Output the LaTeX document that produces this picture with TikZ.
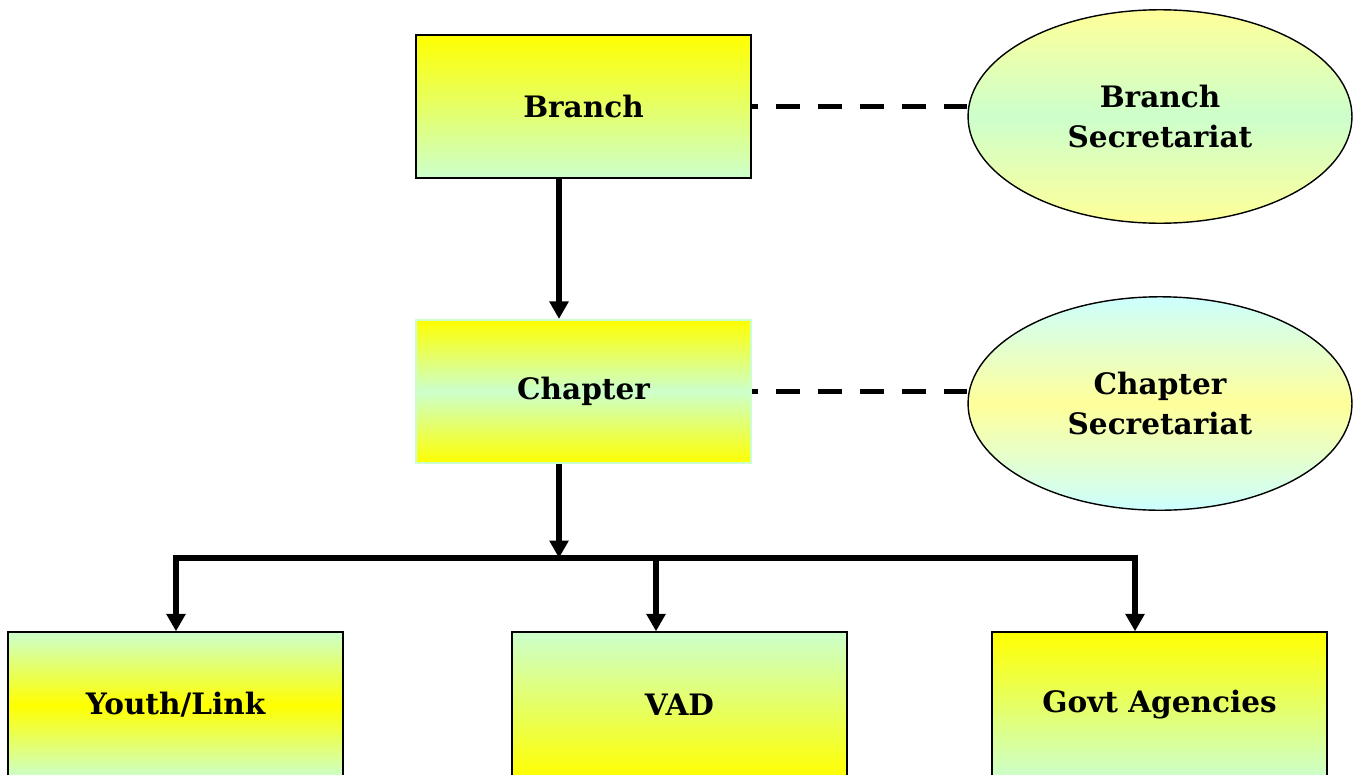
\documentclass[tikz,border=0pt]{standalone}
\usepackage{fontspec}
\setmainfont{DejaVu Serif}
\usepackage{tikz}
\usetikzlibrary{arrows.meta,shapes.geometric}

\definecolor{orgyellow}{HTML}{FFFF00}
\definecolor{orgpale}{HTML}{FFFF99}
\definecolor{orggreen}{HTML}{CCFFCC}
\definecolor{orgcyan}{HTML}{CCFFFF}

\begin{document}
\begin{tikzpicture}[x=0.02cm,y=-0.02cm,>={Triangle[width=0.37cm,length=0.35cm]},
        font=\fontsize{16.8}{22.5}\selectfont\bfseries,node distance=5.7cm]
        \tikzstyle{every node}=[align=center,text=black]
        \tikzstyle{unit}=[rectangle,draw=black,line width=0.8pt,minimum width=6.7cm,minimum height=2.86cm,inner sep=0pt]
        \tikzstyle{office}=[ellipse,draw=black,line width=0.8pt,minimum width=7.68cm,minimum height=4.27cm,inner sep=0pt]
        \tikzstyle{link}=[line width=0.11cm]
        \tikzstyle{liaison}=[line width=0.1cm,dash pattern=on 0.48cm off 0.36cm,dash phase=0.36cm]
        \clip (0,0) rectangle (1364,774);
        \node[unit, top color=orgyellow, bottom color=orggreen]    (branch) at (583.5,106.5) {Branch};
        \node[unit, draw=orggreen, line width=1.2pt, top color=orgyellow, bottom color=orgyellow, middle color=orggreen]
                                        (chapter) [below of=branch]    {Chapter};
        \node[office, top color=orgpale, bottom color=orgpale, middle color=orggreen]    (bsec) at (1160,116.5) {Branch\\Secretariat};
        \node[office, top color=orgcyan, bottom color=orgcyan, middle color=orgpale]     (csec) at (1160,403.5) {Chapter\\Secretariat};
        \node[unit, minimum height=2.92cm, top color=orggreen, bottom color=orggreen, middle color=orgyellow] (youth) at (175.5,705) {Youth/Link};
        \node[unit, minimum height=2.92cm, top color=orggreen, bottom color=orgyellow] (vad)   at (679.5,705)  {VAD};
        \node[unit, minimum height=2.92cm, top color=orgyellow, bottom color=orggreen] (govt)  at (1159.5,705) {Govt Agencies};
        % bus under the chapter
        \coordinate (hub)  at (559,558);
        \coordinate (hubL) at (176,558);
        \coordinate (hubM) at (656,558);
        \coordinate (hubR) at (1135,558);
        \draw[link,->] (branch.south -| hub) -- (chapter.north -| hub);
        \draw[link,->] (chapter.south -| hub) -- (hub);
        \draw[link,<->] (youth.north -| hubL) -- (hubL) -- (hubR) -- (govt.north -| hubR);
        \draw[link,->] (hubM) -- (vad.north -| hubM);
        \draw[liaison] (branch.east) -- (branch.east -| bsec.west);
        \draw[liaison] (chapter.east) -- (chapter.east -| csec.west);
    \end{tikzpicture}
\end{document}
